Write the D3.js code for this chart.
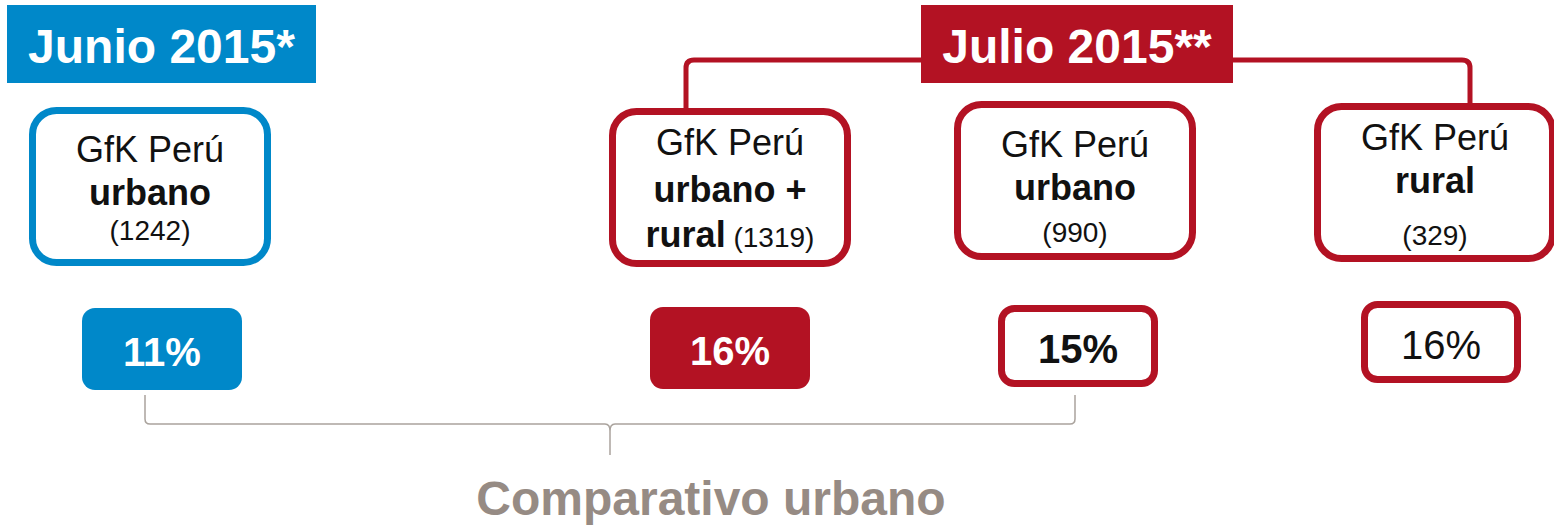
<!DOCTYPE html>
<html>
<head>
<meta charset="utf-8">
<script src="https://cdn.jsdelivr.net/npm/d3@7"></script>
<style>
  html, body { margin: 0; padding: 0; background: #fff; }
  svg { display: block; font-family: "Liberation Sans", Arial, sans-serif; }
</style>
</head>
<body>
<div id="chart"></div>
<script>
// data
const periods = ["Junio 2015*", "Julio 2015**"];
const segments = ["urbano", "urbano + rural", "urbano", "rural"];
const segmentPeriod = [0, 1, 1, 1];
const sampleSizes = [1242, 1319, 990, 329];
const percentages = [11, 16, 15, 16];
const comparisonLabel = "Comparativo urbano";
const comparisonPair = [0, 2]; // panels compared in the bracket

// layout
const width = 1554, height = 526;
const blue = "#0088c9", red = "#b31223", grey = "#968b84";
const panelKeys = d3.range(segments.length);

// x centre of each panel box, top of each box
const x = d3.scaleOrdinal().domain(panelKeys).range([150, 730, 1075, 1435]);
const boxTop = [107, 108, 101, 103];
const pctX = d3.scaleOrdinal().domain(panelKeys).range([162, 730, 1078, 1441]);
const pctTop = [308, 307, 305, 301];
const pctStyle = ["fillBlue", "fillRed", "outline", "outlineLight"];

const boxW = 242, boxH = 159, sw = 7;
const pctW = 160, pctH = 82;

const svg = d3.select("#chart").append("svg")
  .attr("width", width).attr("height", height);

// period headers
const headers = [
  { label: periods[0], x0: 7, x1: 316, color: blue },
  { label: periods[1], x0: 921, x1: 1233, color: red }
];

// Julio connector line (behind header)
const conn = d3.path();
conn.moveTo(686, 112);
conn.lineTo(686, 68);
conn.quadraticCurveTo(686, 60, 694, 60);
conn.lineTo(1462, 60);
conn.quadraticCurveTo(1470, 60, 1470, 68);
conn.lineTo(1470, 113);
svg.append("path").attr("d", conn.toString())
  .attr("fill", "none").attr("stroke", red).attr("stroke-width", 5);

const hg = svg.selectAll("g.header").data(headers).join("g").attr("class", "header");
hg.append("rect")
  .attr("x", d => d.x0).attr("y", 5)
  .attr("width", d => d.x1 - d.x0).attr("height", 78)
  .attr("fill", d => d.color);
hg.append("text")
  .attr("x", d => (d.x0 + d.x1) / 2).attr("y", 63)
  .attr("text-anchor", "middle")
  .attr("fill", "#fff").attr("font-weight", "bold").attr("font-size", 48)
  .text(d => d.label);

// panel boxes
const panels = panelKeys.map(i => ({
  i,
  segment: segments[i],
  n: sampleSizes[i],
  pct: percentages[i],
  color: segmentPeriod[i] === 0 ? blue : red
}));

const pg = svg.selectAll("g.panel").data(panels).join("g").attr("class", "panel");

pg.append("rect")
  .attr("x", d => x(d.i) - boxW / 2 + sw / 2)
  .attr("y", d => boxTop[d.i] + sw / 2)
  .attr("width", boxW - sw).attr("height", boxH - sw)
  .attr("rx", 24)
  .attr("fill", "#fff").attr("stroke", d => d.color).attr("stroke-width", sw);

pg.each(function(d) {
  const g = d3.select(this);
  const cx = x(d.i), t = boxTop[d.i];
  const txt = (y, size, weight) => g.append("text")
    .attr("x", cx).attr("y", y).attr("text-anchor", "middle")
    .attr("font-size", size).attr("font-weight", weight).attr("fill", "#111");

  // first line baseline offset differs a bit per box
  const first = [55, 47, 56, 47][d.i];
  txt(t + first, 36, "normal").text("GfK Perú");

  if (d.segment.includes("+")) {
    const parts = d.segment.split(" + ");
    txt(t + first + 47, 36, "bold").text(parts[0] + " +");
    const line3 = txt(t + first + 92, 36, "bold");
    line3.append("tspan").text(parts[1]);
    line3.append("tspan").attr("font-weight", "normal").attr("font-size", 28)
      .text(` (${d.n})`);
  } else {
    txt(t + first + 43, 36, "bold").text(d.segment);
    txt(t + first + [78, 0, 85, 95][d.i], 28, "normal").text(`(${d.n})`);
  }
});

// percentage boxes
pg.append("rect")
  .attr("x", d => pctX(d.i) - pctW / 2 + (pctStyle[d.i].startsWith("outline") ? sw / 2 : 0))
  .attr("y", d => pctTop[d.i] + (pctStyle[d.i].startsWith("outline") ? sw / 2 : 0))
  .attr("width", d => pctStyle[d.i].startsWith("outline") ? pctW - sw : pctW)
  .attr("height", d => pctStyle[d.i].startsWith("outline") ? pctH - sw : pctH)
  .attr("rx", 13)
  .attr("fill", d => pctStyle[d.i] === "fillBlue" ? blue : pctStyle[d.i] === "fillRed" ? red : "#fff")
  .attr("stroke", d => pctStyle[d.i].startsWith("outline") ? red : "none")
  .attr("stroke-width", sw);

pg.append("text")
  .attr("x", d => pctX(d.i)).attr("y", d => pctTop[d.i] + 58)
  .attr("text-anchor", "middle").attr("font-size", 40)
  .attr("font-weight", d => pctStyle[d.i] === "outlineLight" ? "normal" : "bold")
  .attr("fill", d => pctStyle[d.i].startsWith("fill") ? "#fff" : "#111")
  .text(d => d.pct + "%");

// bracket for the urban comparison
const bx0 = x(comparisonPair[0]) - 5, bx1 = x(comparisonPair[1]);
const bm = (bx0 + bx1) / 2;
const by0 = 395, by = 424, by1 = 455, r = 5;
const br = d3.path();
br.moveTo(bx0, by0);
br.lineTo(bx0, by - r);
br.quadraticCurveTo(bx0, by, bx0 + r, by);
br.lineTo(bm - r, by);
br.quadraticCurveTo(bm, by, bm, by + r + 2);
br.lineTo(bm, by1);
br.moveTo(bm, by + r + 2);
br.quadraticCurveTo(bm, by, bm + r, by);
br.lineTo(bx1 - r, by);
br.quadraticCurveTo(bx1, by, bx1, by - r);
br.lineTo(bx1, by0);
svg.append("path").attr("d", br.toString())
  .attr("fill", "none").attr("stroke", "#aaa39d").attr("stroke-width", 1.5);

svg.append("text")
  .attr("x", 711).attr("y", 515).attr("text-anchor", "middle")
  .attr("font-size", 48).attr("font-weight", "bold").attr("fill", grey)
  .text(comparisonLabel);
</script>
</body>
</html>
